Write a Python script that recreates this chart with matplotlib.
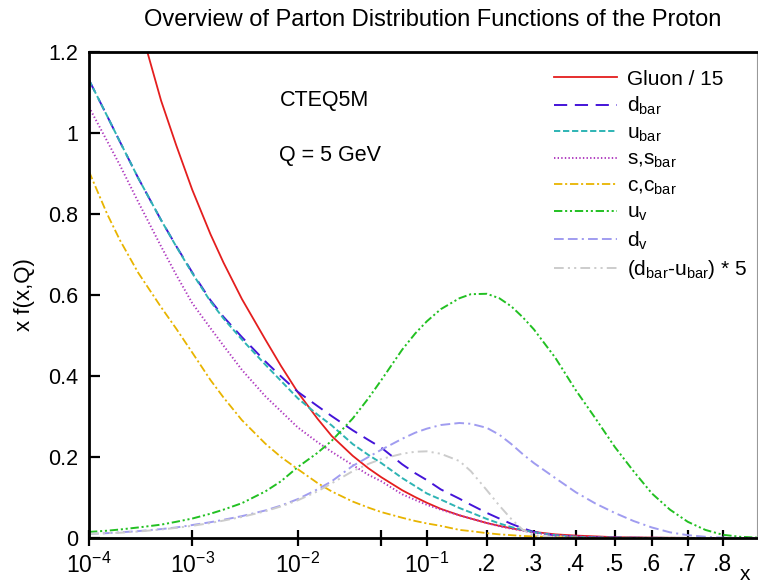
import numpy as np
import matplotlib
matplotlib.use("Agg")
import matplotlib.pyplot as plt
from matplotlib import font_manager
from matplotlib.ticker import FixedLocator, FixedFormatter

# ── Data (x f(x,Q), CTEQ5M, Q = 5 GeV) ───────────────────────────────────────
x_vals = [1e-4, 1.5e-4, 2e-4, 3e-4, 5e-4, 7e-4, 1e-3, 1.5e-3, 2e-3, 3e-3,
          5e-3, 7e-3, 1e-2, 1.5e-2, 2e-2, 3e-2, 4e-2, 5e-2, 7e-2, 0.085,
          0.1, 0.12, 0.15, 0.17, 0.2, 0.225, 0.25, 0.275, 0.3, 0.35,
          0.4, 0.45, 0.5, 0.55, 0.6, 0.65, 0.7, 0.75, 0.8, 0.85, 0.9]

gluon_15 = [1.85, 1.63, 1.47, 1.28, 1.08, 0.97, 0.86, 0.75, 0.68, 0.59,
            0.49, 0.425, 0.36, 0.295, 0.252, 0.203, 0.172, 0.15, 0.118, 0.101,
            0.087, 0.072, 0.056, 0.048, 0.037, 0.03, 0.024, 0.019, 0.015, 0.009,
            0.006, 0.004, 0.002, 0.0015, 0.001, 0.0006, 0.0003, 0.0002, 0.0001, 0.0, 0.0]
dbar = [1.131, 1.042, 0.978, 0.889, 0.785, 0.721, 0.656, 0.587, 0.546, 0.496,
        0.436, 0.399, 0.361, 0.326, 0.301, 0.266, 0.242, 0.223, 0.182, 0.16,
        0.143, 0.12, 0.097, 0.082, 0.062, 0.048, 0.035, 0.024, 0.015, 0.006,
        0.003, 0.0015, 0.001, 0.0005, 0.0003, 0.0002, 0.0001, 0.0, 0.0, 0.0, 0.0]
ubar = [1.131, 1.042, 0.978, 0.889, 0.785, 0.72, 0.654, 0.584, 0.542, 0.49,
        0.428, 0.388, 0.345, 0.305, 0.278, 0.232, 0.205, 0.185, 0.148, 0.128,
        0.11, 0.095, 0.074, 0.063, 0.047, 0.036, 0.027, 0.02, 0.014, 0.007,
        0.003, 0.0015, 0.001, 0.0005, 0.0003, 0.0002, 0.0001, 0.0, 0.0, 0.0, 0.0]
s_sbar = [1.064, 0.98, 0.92, 0.83, 0.72, 0.65, 0.58, 0.518, 0.475, 0.415,
          0.35, 0.313, 0.273, 0.237, 0.213, 0.18, 0.156, 0.14, 0.108, 0.094,
          0.082, 0.07, 0.056, 0.048, 0.037, 0.029, 0.023, 0.018, 0.013, 0.007,
          0.004, 0.002, 0.001, 0.0005, 0.0003, 0.0002, 0.0001, 0.0, 0.0, 0.0, 0.0]
c_cbar = [0.905, 0.80, 0.735, 0.655, 0.57, 0.517, 0.458, 0.39, 0.347, 0.291,
          0.233, 0.2, 0.17, 0.136, 0.115, 0.09, 0.075, 0.064, 0.05, 0.042,
          0.036, 0.03, 0.02, 0.017, 0.012, 0.009, 0.007, 0.005, 0.004, 0.002,
          0.001, 0.0, 0.0, 0.0, 0.0, 0.0, 0.0, 0.0, 0.0, 0.0, 0.0]
u_v = [0.015, 0.018, 0.021, 0.026, 0.033, 0.04, 0.048, 0.06, 0.07, 0.086,
       0.115, 0.14, 0.175, 0.21, 0.24, 0.295, 0.345, 0.39, 0.465, 0.505,
       0.535, 0.565, 0.592, 0.602, 0.603, 0.592, 0.572, 0.545, 0.515, 0.445,
       0.365, 0.295, 0.225, 0.165, 0.11, 0.07, 0.04, 0.02, 0.008, 0.003, 0.001]
d_v = [0.01, 0.012, 0.014, 0.017, 0.022, 0.026, 0.032, 0.039, 0.045, 0.054,
       0.068, 0.08, 0.096, 0.12, 0.14, 0.178, 0.2, 0.218, 0.245, 0.26,
       0.27, 0.279, 0.284, 0.282, 0.272, 0.255, 0.232, 0.207, 0.185, 0.148,
       0.113, 0.085, 0.062, 0.042, 0.026, 0.014, 0.007, 0.003, 0.001, 0.0, 0.0]
dbar_ubar_5 = [0.01, 0.012, 0.013, 0.016, 0.021, 0.025, 0.03, 0.037, 0.043, 0.052,
               0.066, 0.078, 0.093, 0.115, 0.135, 0.165, 0.183, 0.195, 0.208, 0.213,
               0.214, 0.208, 0.19, 0.165, 0.118, 0.08, 0.047, 0.02, 0.006, 0.002,
               0.0, 0.0, 0.0, 0.0, 0.0, 0.0, 0.0, 0.0, 0.0, 0.0, 0.0]

x_ticks = [1e-4, 1e-3, 1e-2, 0.05, 0.1, 0.2, 0.3, 0.4, 0.5, 0.6, 0.7, 0.8]
x_ticklabels = [r"$10^{-4}$", r"$10^{-3}$", r"$10^{-2}$", "", r"$10^{-1}$",
                ".2", ".3", ".4", ".5", ".6", ".7", ".8"]
y_ticks = [0, 0.2, 0.4, 0.6, 0.8, 1.0, 1.2]
y_ticklabels = ["0", "0.2", "0.4", "0.6", "0.8", "1", "1.2"]

# ── Fonts ────────────────────────────────────────────────────────────────────
available = {f.name for f in font_manager.fontManager.ttflist}
FONT = next(f for f in ["Liberation Sans Narrow", "Liberation Sans", "DejaVu Sans"]
            if f in available)
plt.rcParams["font.family"] = [FONT, "DejaVu Sans"]
plt.rcParams["mathtext.fontset"] = "custom"
plt.rcParams["mathtext.rm"] = FONT
plt.rcParams["mathtext.it"] = FONT
plt.rcParams["mathtext.bf"] = FONT
plt.rcParams["lines.scale_dashes"] = False

# ── x scale: log10(x) + K*x (log at small x, near linear at large x) ────────
K = 2.816


def fwd(x):
    x = np.asarray(x, dtype=float)
    with np.errstate(divide="ignore", invalid="ignore"):
        return np.log10(x) + K * x


def inv(u):
    u = np.asarray(u, dtype=float)
    t = np.minimum(u * np.log(10), 0.0)
    for _ in range(60):
        et = np.exp(np.clip(t, -700, 5))
        g = t / np.log(10) + K * et - u
        t = t - g / (1 / np.log(10) + K * et)
        t = np.clip(t, -700, 5)
    return np.exp(t)


# ── Figure ───────────────────────────────────────────────────────────────────
fig = plt.figure(figsize=(7.58, 5.86), dpi=100)
ax = fig.add_axes([89 / 758, 48 / 586, 668 / 758, 486 / 586])
ax.set_xscale("function", functions=(fwd, inv))

styles = [
    (gluon_15, "Gluon / 15", "#E41E1E", "-", 1.3),
    (dbar, r"d$_{\rm bar}$", "#4414D8", (0, (9.5, 5.5)), 1.4),
    (ubar, r"u$_{\rm bar}$", "#2EB4B4", (0, (4.5, 2)), 1.4),
    (s_sbar, r"s,s$_{\rm bar}$", "#B03CC0", (0, (1, 1.6)), 1.4),
    (c_cbar, r"c,c$_{\rm bar}$", "#E8B400", (0, (6, 2, 1.5, 2)), 1.3),
    (u_v, r"u$_{\rm v}$", "#22C022", (0, (6, 2, 1.5, 2, 1.5, 2)), 1.4),
    (d_v, r"d$_{\rm v}$", "#A09CF0", (0, (7, 3, 7, 3, 1.5, 3)), 1.4),
    (dbar_ubar_5, r"(d$_{\rm bar}$-u$_{\rm bar}$) * 5", "#CCCCCC",
     (0, (7, 3, 1.5, 3, 1.5, 3)), 1.4),
]
for vals, label, color, ls, lw in styles:
    ax.plot(x_vals, vals, color=color, linestyle=ls, linewidth=lw, label=label)

ax.set_xlim(1e-4, 0.9)
ax.set_ylim(0, 1.2)

ax.xaxis.set_major_locator(FixedLocator(x_ticks))
ax.xaxis.set_major_formatter(FixedFormatter(x_ticklabels))
ax.xaxis.set_minor_locator(FixedLocator([]))
ax.yaxis.set_major_locator(FixedLocator(y_ticks))
ax.yaxis.set_major_formatter(FixedFormatter(y_ticklabels))

ax.tick_params(axis="x", direction="inout", length=11, width=1.6,
               labelsize=16.5, pad=5)
ax.tick_params(axis="y", direction="in", length=8, width=1.6,
               labelsize=15.5, pad=8)

for side in ["left", "top", "bottom"]:
    ax.spines[side].set_linewidth(2.0)
    ax.spines[side].set_color("black")
ax.spines["right"].set_linewidth(0.8)
ax.spines["right"].set_color("#999999")

ax.set_ylabel("x f(x,Q)", fontsize=16, labelpad=9)

ax.text(0.285, 0.901, "CTEQ5M", transform=ax.transAxes, fontsize=15.5, va="center")
ax.text(0.285, 0.788, "Q = 5 GeV", transform=ax.transAxes, fontsize=15.5, va="center")

ax.legend(loc="upper right", frameon=False, fontsize=15, handlelength=3.0,
          handletextpad=0.5, labelspacing=0.3, borderaxespad=0.45,
          bbox_to_anchor=(1.012, 1.0))

fig.text(433 / 758, 1 - 20 / 586, "Overview of Parton Distribution Functions of the Proton",
         ha="center", va="center", fontsize=17)
fig.text(745 / 758, 1 - 574 / 586, "x", ha="center", va="center", fontsize=15)

fig.savefig("out.png", dpi=100)
